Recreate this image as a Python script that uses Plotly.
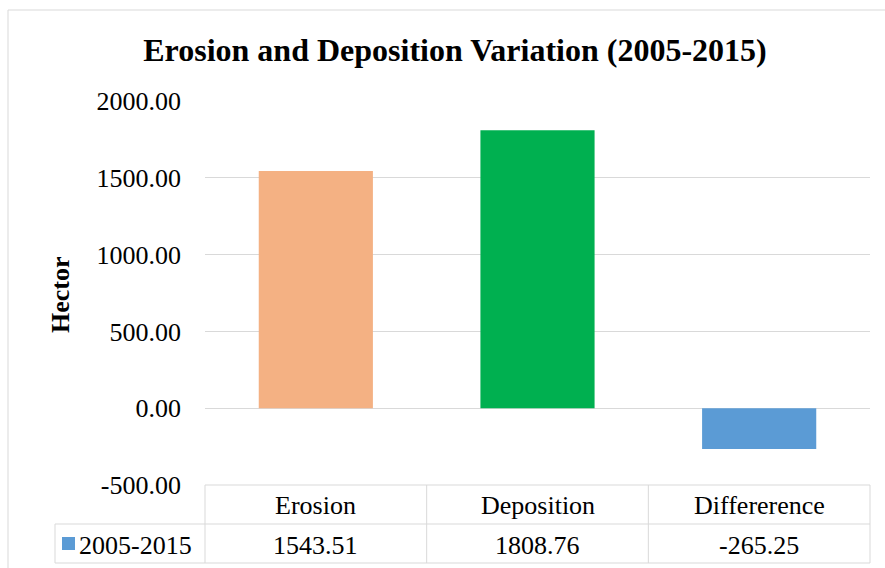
import plotly.graph_objects as go

categories = ["Erosion", "Deposition", "Differerence"]
values = [1543.51, 1808.76, -265.25]
series_name = "2005-2015"
bar_colors = ["#F4B183", "#00B050", "#5B9BD5"]
y_ticks = [-500, 0, 500, 1000, 1500, 2000]

W, H = 885, 568
L, R, T, B = 205, 15, 101, 83
PW, PH = W - L - R, H - T - B

FONT = "Liberation Serif"
GRID = "#D9D9D9"
FS = 26

fig = go.Figure()
fig.add_trace(go.Bar(
    x=categories, y=values, marker=dict(color=bar_colors, line=dict(width=0)),
    width=0.515, showlegend=False, hoverinfo="x+y",
))

def px_x(x):
    return (x - L) / PW

def px_y(y):
    return (H - B - y) / PH

shapes = []
line = dict(color=GRID, width=1)
# table horizontal lines
shapes.append(dict(type="line", xref="paper", yref="paper", x0=0, x1=1, y0=px_y(485), y1=px_y(485), line=line))
shapes.append(dict(type="line", xref="paper", yref="paper", x0=px_x(55), x1=1, y0=px_y(524), y1=px_y(524), line=line))
shapes.append(dict(type="line", xref="paper", yref="paper", x0=px_x(55), x1=1, y0=px_y(563), y1=px_y(563), line=line))
# table vertical lines
shapes.append(dict(type="line", xref="paper", yref="paper", x0=px_x(55), x1=px_x(55), y0=px_y(524), y1=px_y(563), line=line))
for i in range(len(categories) + 1):
    xv = i / len(categories)
    shapes.append(dict(type="line", xref="paper", yref="paper", x0=xv, x1=xv, y0=px_y(485), y1=px_y(563), line=line))
# legend key
shapes.append(dict(type="rect", xref="paper", yref="paper", x0=px_x(62), x1=px_x(75), y0=px_y(550), y1=px_y(537),
                   fillcolor=bar_colors[2], line=dict(width=0)))
# outer chart border
shapes.append(dict(type="rect", xref="paper", yref="paper", x0=px_x(8), x1=px_x(890), y0=px_y(10), y1=px_y(575),
                   line=dict(color=GRID, width=1), fillcolor="rgba(0,0,0,0)", layer="below"))

ann = []
n = len(categories)
for i, (c, v) in enumerate(zip(categories, values)):
    xc = (i + 0.5) / n
    ann.append(dict(text=c, x=xc, y=px_y(505), xref="paper", yref="paper", showarrow=False,
                    font=dict(family=FONT, size=FS, color="#000"), xanchor="center", yanchor="middle"))
    ann.append(dict(text=f"{v:.2f}", x=xc, y=px_y(545), xref="paper", yref="paper", showarrow=False,
                    font=dict(family=FONT, size=FS, color="#000"), xanchor="center", yanchor="middle"))
ann.append(dict(text=series_name, x=px_x(77), y=px_y(545), xref="paper", yref="paper", showarrow=False,
                font=dict(family=FONT, size=FS, color="#000"), xanchor="left", yanchor="middle"))
ann.append(dict(text="<b>Hector</b>", x=px_x(60), y=px_y(295), xref="paper", yref="paper", showarrow=False,
                textangle=-90, font=dict(family=FONT, size=FS, color="#000"), xanchor="center", yanchor="middle"))

fig.update_layout(
    width=W, height=H, margin=dict(l=L, r=R, t=T, b=B),
    paper_bgcolor="white", plot_bgcolor="white",
    title=dict(text="<b>Erosion and Deposition Variation (2005-2015)</b>", xref="container", yref="container",
               x=455 / W, y=1 - 50 / H, xanchor="center", yanchor="middle",
               font=dict(family=FONT, size=32, color="#000")),
    xaxis=dict(showticklabels=False, showgrid=False, zeroline=False, showline=False, ticks=""),
    yaxis=dict(range=[-500, 2000], tickvals=y_ticks, ticktext=[f"{v:.2f}" for v in y_ticks],
               showgrid=True, gridcolor=GRID,
               gridwidth=1, zeroline=True, zerolinecolor=GRID, zerolinewidth=1, showline=False, ticks="",
               ticklabelstandoff=23, tickfont=dict(family=FONT, size=FS, color="#000")),
    shapes=shapes, annotations=ann, bargap=0.485,
)
fig.write_html("out.html", config={"displayModeBar": False},
               post_script="document.body.style.margin='0';document.body.style.overflow='hidden';")
